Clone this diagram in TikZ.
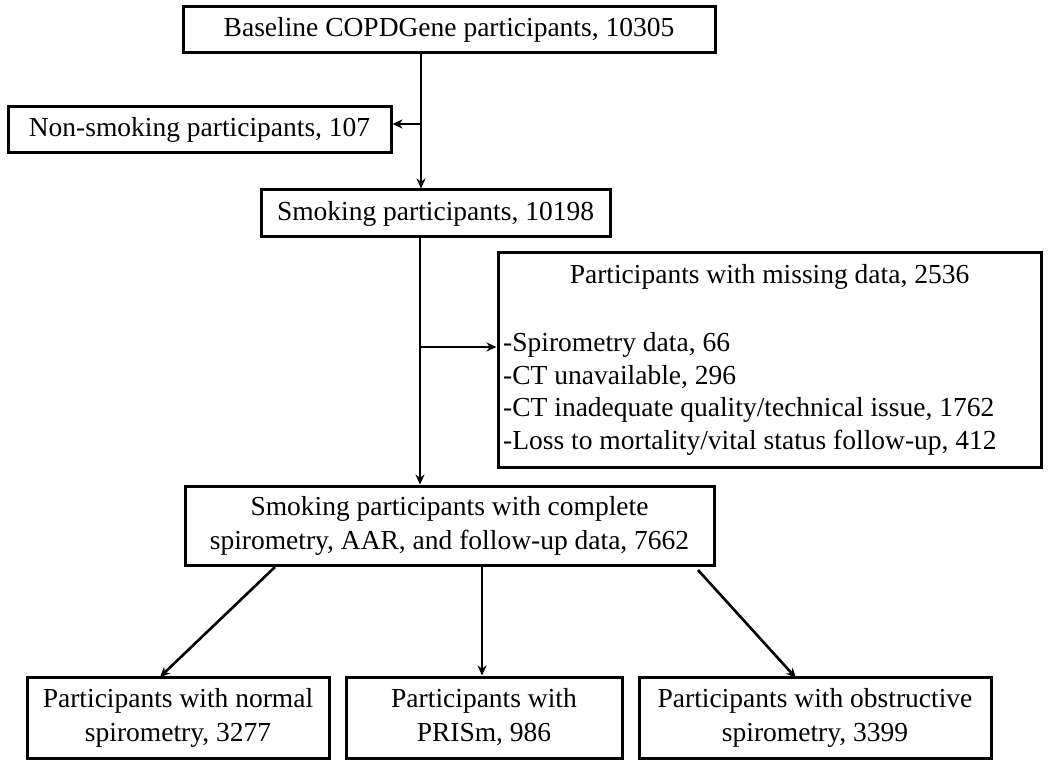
\documentclass[tikz,border=0pt]{standalone}
\usepackage{fontspec}
\setmainfont{Liberation Serif}
\usetikzlibrary{arrows.meta,calc}
\begin{document}
\begin{tikzpicture}[x=1pt,y=-1pt,
  box/.style={draw=black, line width=3pt, rectangle, inner sep=0pt, align=center,
    font=\fontsize{27.5}{34}\selectfont},
  txt/.style={inner sep=0pt, font=\fontsize{27.5}{32.5}\selectfont},
  arr/.style={line width=2.6pt, -{Stealth[length=10pt,width=9pt]}},
  ln/.style={line width=2.6pt}]
\useasboundingbox[fill=white] (0,0) rectangle (1050,767);

\node[box, minimum width=532, minimum height=46] (b1) at (449,30) {Baseline COPDGene participants, 10305};
\node[box, minimum width=383, minimum height=46] (b2) at (199.5,130) {Non-smoking participants, 107};
\node[box, minimum width=349, minimum height=47] (b3) at (435.5,213.5) {Smoking participants, 10198};
\node[box, minimum width=543, minimum height=214] (b4) at (769.5,360) {};
\node[txt] (b4t) at (769.5,277) {Participants with missing data, 2536};
\node[txt, anchor=west, align=left] (b4l) at (503,394) {-Spirometry data, 66\\-CT unavailable, 296\\-CT inadequate quality/technical issue, 1762\\-Loss to mortality/vital status follow-up, 412};
\node[box, minimum width=529, minimum height=79] (b5) at (449.5,525.5) {Smoking participants with complete\\spirometry, AAR, and follow-up data, 7662};
\node[box, minimum width=302, minimum height=81] (b6) at (178,717.5) {Participants with normal\\spirometry, 3277};
\node[box, minimum width=276, minimum height=81] (b7) at (484,717.5) {Participants with\\PRISm, 986};
\node[box, minimum width=352, minimum height=81] (b8) at (815,718) {Participants with obstructive\\spirometry, 3399};

\coordinate (j1) at (421,124);
\coordinate (j2) at (420,347);
\draw[arr] (b1.south -| j1) -- (b3.north -| j1);
\draw[arr] (j1) -- (b2.east |- j1);
\draw[arr] (b3.south -| j2) -- (b5.north -| j2);
\draw[arr] (j2) -- (b4.west |- j2);

\coordinate (s1) at (275,567);
\coordinate (t1) at (160,677);
\coordinate (s2) at (482,567);
\coordinate (s3) at (698,570);
\coordinate (t3) at (796,678);
\draw[arr] (s1) -- (t1);
\draw[arr] (s2) -- (b7.north -| s2);
\draw[arr] (s3) -- (t3);
\end{tikzpicture}
\end{document}
